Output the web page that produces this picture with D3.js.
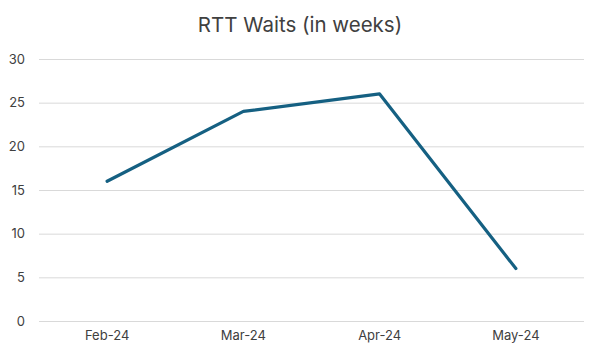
<!DOCTYPE html>
<html><head><meta charset="utf-8">
<script src="https://cdn.jsdelivr.net/npm/d3@7"></script>
<style>body{margin:0;background:#fff}svg{display:block}</style>
</head><body>
<svg id="c" width="600" height="355"></svg>
<script>
const categories = ["Feb-24", "Mar-24", "Apr-24", "May-24"];
const values = [16, 24, 26, 6];
const yTicks = [0, 5, 10, 15, 20, 25, 30];
const title = "RTT Waits (in weeks)";

const svg = d3.select("#c");
const m = {left: 39, right: 16, top: 59, bottom: 34};
const W = 600, H = 355;
const x = d3.scaleBand().domain(categories).range([m.left, W - m.right]);
const y = d3.scaleLinear().domain([0, 30]).range([H - m.bottom, m.top]);
const font = "Inter, 'Noto Sans', sans-serif";

svg.append("text").attr("x", 300).attr("y", 32).attr("text-anchor", "middle")
  .attr("font-family", font).attr("font-size", 20.5).attr("fill", "#404040").text(title);

const ya = svg.append("g").attr("transform", `translate(${m.left},0)`)
  .call(d3.axisLeft(y).tickValues(yTicks).tickSize(-(W - m.left - m.right)).tickPadding(14));
ya.select(".domain").remove();
ya.selectAll("line").attr("stroke", "#d9d9d9").attr("stroke-width", 1);
ya.selectAll("text").attr("font-family", font).attr("font-size", 13).attr("fill", "#404040");

const xa = svg.append("g").attr("transform", `translate(0,${H - m.bottom})`)
  .call(d3.axisBottom(x).tickSize(0).tickPadding(10));
xa.select(".domain").remove();
xa.selectAll("text").attr("font-family", font).attr("font-size", 13).attr("fill", "#404040");

const line = d3.line().x((d, i) => x(categories[i]) + x.bandwidth() / 2).y(d => y(d));
svg.append("path").datum(values).attr("d", line).attr("fill", "none")
  .attr("stroke", "#156082").attr("stroke-width", 3.2).attr("stroke-linejoin", "round").attr("stroke-linecap", "round");
</script>
</body></html>
